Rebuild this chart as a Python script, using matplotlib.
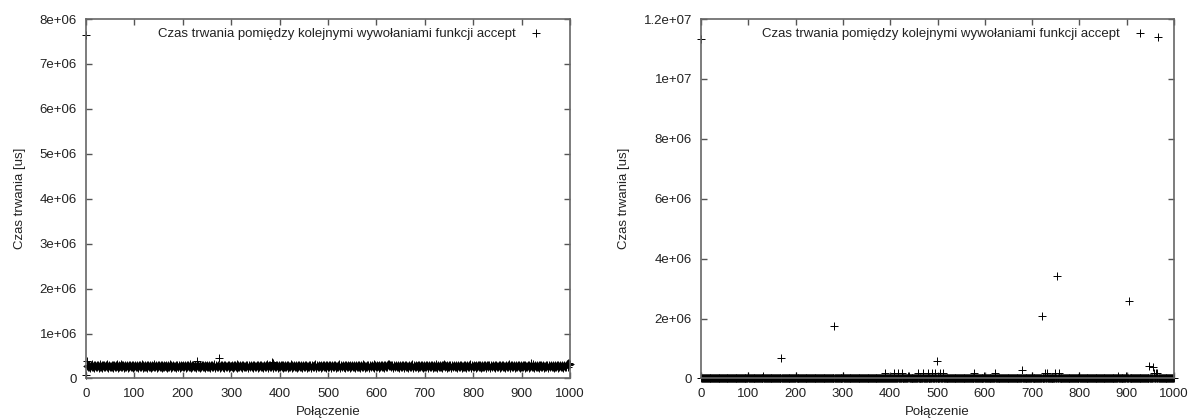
import numpy as np
import matplotlib
matplotlib.use('Agg')
import matplotlib.pyplot as plt
from matplotlib.ticker import FuncFormatter, MultipleLocator

plt.rcParams['font.family'] = ['Liberation Sans', 'DejaVu Sans']
plt.rcParams['font.size'] = 9.5

LEGEND_TEXT = 'Czas trwania pomiędzy kolejnymi wywołaniami funkcji accept'
X_LABEL = 'Połączenie'
Y_LABEL = 'Czas trwania [us]'

# left chart: time between accept calls, in units of 1e4 us (one value per connection)
left_rows = [
    "765 8 38 27 25 29 31 26 24 28 30 27 25 33 26 28 29 24 27 31 26 28 25 30 27 29 23 28 32 26 27 25 29 28 24 30 27 26 31 28 25 27 29 26 33 24 28 27 30 26",
    "28 25 27 30 26 29 24 31 27 28 26 29 25 27 32 28 24 27 30 26 28 27 33 25 29 26 28 31 24 27 29 26 28 25 30 27 23 28 29 26 27 31 25 28 26 29 27 24 30 28",
    "26 28 29 25 27 31 26 24 28 30 27 25 29 26 28 33 27 24 29 26 28 30 25 27 26 29 28 23 27 31 26 28 25 29 27 24 30 26 28 27 32 25 28 26 29 27 24 28 30 26",
    "27 29 25 28 26 30 27 24 29 28 26 31 25 27 28 26 29 24 27 30 25 28 26 33 27 29 24 28 26 27 30 25 28 27 26 29 24 31 27 28 26 25 29 28 27 24 30 26 28 27",
    "29 26 28 25 31 27 24 28 30 26 27 29 25 28 26 32 27 24 28 29 26 27 30 25 28 26 29 24 27 28 38 26 29 25 27 30 24 28 26 29 27 25 31 28 26 24 29 27 28 26",
    "28 30 25 27 29 26 24 28 31 27 26 29 25 28 27 33 24 26 29 28 27 25 30 26 28 46 27 24 29 26 28 31 25 27 26 29 24 28 30 27 26 28 25 29 27 24 31 26 28 27",
    "27 29 26 24 28 30 25 27 29 26 28 32 24 27 26 29 28 25 30 27 26 28 24 29 27 31 25 28 26 27 29 25 28 30 26 24 27 29 28 26 27 31 25 28 26 29 24 27 30 28",
    "26 28 25 29 27 30 24 28 26 27 31 25 29 26 28 27 24 30 28 26 27 29 25 28 33 26 24 27 29 28 26 30 25 28 27 37 35 24 29 27 28 26 30 25 27 29 24 28 26 31",
    "27 25 29 28 26 30 24 27 29 26 28 31 25 27 26 29 28 24 30 27 26 28 25 32 27 29 24 28 26 27 30 25 28 29 26 24 27 31 28 26 27 29 25 28 26 30 24 27 29 28",
    "26 28 25 30 27 29 24 28 26 27 31 25 28 29 26 24 27 30 28 26 27 29 25 28 32 26 24 27 29 28 26 30 25 28 27 29 24 28 26 31 27 25 29 28 26 30 24 27 29 26",
    "28 26 30 25 27 29 24 28 31 27 26 28 25 29 27 30 24 28 26 27 29 25 28 33 26 24 27 30 28 26 27 29 25 28 26 31 24 27 29 28 26 30 25 28 27 29 24 28 26 27",
    "30 25 28 29 26 24 27 31 28 26 27 29 25 28 26 30 24 27 29 28 26 28 25 32 27 29 24 28 26 27 31 25 28 29 26 24 27 30 28 26 27 29 25 28 33 26 24 27 29 28",
    "26 30 25 28 27 29 24 28 26 31 27 25 29 28 26 30 24 27 29 26 28 26 30 32 31 29 33 28 31 27 29 25 28 30 26 24 27 29 28 26 27 31 25 28 26 29 24 27 30 28",
    "26 28 25 29 27 30 24 28 26 27 31 25 29 26 28 27 24 30 28 26 27 29 25 28 32 26 24 27 29 28 26 30 25 28 27 29 24 28 26 31 27 25 29 28 26 30 24 27 29 26",
    "28 26 30 25 27 29 24 28 31 27 26 28 25 29 27 30 24 28 26 27 29 25 28 32 26 24 27 30 28 26 27 29 25 28 26 31 24 27 29 28 33 30 25 28 27 29 24 28 26 27",
    "30 25 28 29 26 24 27 31 28 26 27 29 25 28 26 30 24 27 29 28 26 28 25 31 27 29 24 28 26 27 30 25 28 29 26 24 27 30 28 26 27 29 25 28 32 26 24 27 29 28",
    "26 30 25 28 27 29 24 28 26 31 27 25 29 28 26 30 24 27 29 26 28 26 30 25 27 29 24 28 31 27 29 25 28 30 26 24 27 29 28 26 27 31 25 28 26 29 24 27 30 28",
    "26 28 25 29 27 30 24 28 26 27 31 25 29 26 28 27 24 30 28 26 27 29 25 28 32 26 24 27 29 28 26 30 25 28 27 29 24 28 26 31 27 25 29 28 26 30 24 27 29 26",
    "28 26 30 25 27 29 24 28 31 27 26 28 25 29 27 30 24 28 26 27 35 25 28 32 26 24 27 30 28 26 27 29 25 28 26 31 24 27 29 28 26 30 25 28 27 29 24 28 26 27",
    "30 25 28 29 26 24 27 31 28 26 27 29 25 28 26 30 24 27 29 28 26 28 25 31 27 29 24 28 26 27 30 25 28 29 26 24 27 30 28 26 27 29 25 33 32 26 34 31 35 33",
]
left_values = np.array([float(v) for row in left_rows for v in row.split()]) * 1e4

# right chart: nearly all connections at 0, plus these readings
n_right = 1000
right_spike_idx = [0, 100, 131, 169, 200, 281, 300, 389, 408, 417, 425, 437, 440,
                   459, 470, 480, 488, 495, 499, 505, 512, 577, 598, 622, 678, 700,
                   721, 727, 731, 748, 752, 756, 799, 881, 898, 905, 947, 956, 958,
                   961, 964, 966]
right_spike_val = [1.133e7, 9e4, 7e4, 6.8e5, 9e4, 1.75e6, 9e4, 1.9e5, 1.7e5, 1.9e5,
                   1.9e5, 1e5, 8e4, 1.7e5, 1.9e5, 2e5, 2e5, 1.8e5, 5.8e5, 1.9e5,
                   1.9e5, 1.9e5, 9e4, 1.9e5, 3e5, 9e4, 2.1e6, 1.9e5, 1.9e5, 1.9e5,
                   3.41e6, 1.9e5, 9e4, 9e4, 9e4, 2.6e6, 4.3e5, 3.7e5, 2e5, 2e5,
                   2e5, 1.14e7]

right_values = np.zeros(n_right)
right_values[right_spike_idx] = right_spike_val


def fmt_tick(v, pos):
    if v == 0:
        return '0'
    return '%g' % v


def style_axes(ax, ymax, ystep):
    ax.set_xlim(0, 1000)
    ax.set_ylim(0, ymax)
    ax.xaxis.set_major_locator(MultipleLocator(100))
    ax.yaxis.set_major_locator(MultipleLocator(ystep))
    ax.yaxis.set_major_formatter(FuncFormatter(fmt_tick))
    ax.tick_params(direction='in', length=4, width=1, top=True, right=True,
                   colors='#555555', labelcolor='#222222')
    ax.tick_params(axis='y', pad=6.5)
    ax.tick_params(axis='x', pad=7)
    for s in ax.spines.values():
        s.set_color('#666666')
        s.set_linewidth(1.2)
    ax.set_xlabel(X_LABEL, color='#222222', labelpad=4)
    ax.set_ylabel(Y_LABEL, color='#222222', labelpad=10)
    leg = ax.legend(loc='upper right', frameon=False, markerfirst=False,
                    handlelength=1.5, handletextpad=0.8, borderaxespad=0.3,
                    bbox_to_anchor=(0.969, 1.0))
    for t in leg.get_texts():
        t.set_color('#222222')


fig = plt.figure(figsize=(11.93, 4.18), dpi=100)
ax1 = fig.add_axes([0.0721, 0.0945, 0.4057, 0.86])
ax2 = fig.add_axes([0.5876, 0.0945, 0.3965, 0.86])

ax1.plot(np.arange(len(left_values)), left_values, linestyle='none', marker='+',
         markersize=5.5, markeredgewidth=0.7, color='black', label=LEGEND_TEXT, clip_on=False)
style_axes(ax1, 8e6, 1e6)

ax2.plot(np.arange(n_right), right_values, linestyle='none', marker='+',
         markersize=5.5, markeredgewidth=0.7, color='black', label=LEGEND_TEXT, clip_on=False)
style_axes(ax2, 1.2e7, 2e6)

fig.savefig('out.png', dpi=100)
